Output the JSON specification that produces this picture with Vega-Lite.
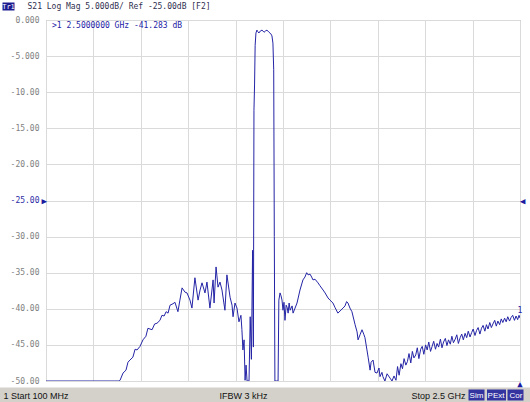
{
  "$schema": "https://vega.github.io/schema/vega-lite/v6.json",
  "width": 474,
  "height": 361,
  "autosize": {"type": "none"},
  "padding": {"left": 46, "top": 20, "right": 10, "bottom": 21},
  "background": "white",
  "config": {"view": {"stroke": "#a0a0a0", "strokeWidth": 1}, "font": "DejaVu Sans Mono"},
  "encoding": {
    "y": {
      "field": "db", "type": "quantitative",
      "scale": {"domain": [-50, 0], "nice": false, "zero": false},
      "axis": {
        "values": [0, -5, -10, -15, -20, -25, -30, -35, -40, -45, -50],
        "grid": true, "gridColor": "#dadada", "ticks": false, "tickSize": 0, "domain": false,
        "labelExpr": "datum.value == 0 ? '0.000' : replace(format(datum.value, '.4r'), '\u2212', '-')",
        "labelFont": "DejaVu Sans Mono", "labelFontSize": 8,
        "labelColor": {"condition": {"test": "datum.value == -25", "value": "#2b2ba6"}, "value": "#808080"},
        "labelPadding": 7, "labelFlush": false, "labelOverlap": false, "title": null
      }
    }
  },
  "layer": [
    {
      "data": {"values": [
        {"freq": 100, "db": -50}, {"freq": 470, "db": -50}, {"freq": 475, "db": -49.9}, {"freq": 490, "db": -48.9},
        {"freq": 505, "db": -48.5}, {"freq": 515, "db": -47.4}, {"freq": 525, "db": -47.1}, {"freq": 540, "db": -46.7}, {"freq": 551, "db": -45.6}, {"freq": 561, "db": -45.7},
        {"freq": 576, "db": -45.2}, {"freq": 591, "db": -44.3}, {"freq": 606, "db": -43.8}, {"freq": 616, "db": -42.7},
        {"freq": 637, "db": -42.9}, {"freq": 650, "db": -42.1}, {"freq": 662, "db": -42.0}, {"freq": 677, "db": -41.6}, {"freq": 687, "db": -40.9},
        {"freq": 698, "db": -41.0}, {"freq": 708, "db": -40.4}, {"freq": 718, "db": -40.6}, {"freq": 728, "db": -39.5}, {"freq": 743, "db": -39.3}, {"freq": 753, "db": -39.1},
        {"freq": 768, "db": -40.4}, {"freq": 778, "db": -38.8}, {"freq": 789, "db": -37.1}, {"freq": 804, "db": -37.7},
        {"freq": 814, "db": -37.8}, {"freq": 829, "db": -38.8}, {"freq": 839, "db": -39.9}, {"freq": 854, "db": -35.7},
        {"freq": 870, "db": -38.8}, {"freq": 880, "db": -37.4}, {"freq": 890, "db": -36.4}, {"freq": 905, "db": -37.8},
        {"freq": 915, "db": -36.3}, {"freq": 930, "db": -39.9}, {"freq": 946, "db": -36.0}, {"freq": 951, "db": -39.2},
        {"freq": 961, "db": -34.2}, {"freq": 971, "db": -37.0}, {"freq": 981, "db": -36.3}, {"freq": 991, "db": -37.4},
        {"freq": 1006, "db": -40.2}, {"freq": 1016, "db": -35.3}, {"freq": 1032, "db": -38.4}, {"freq": 1042, "db": -39.5},
        {"freq": 1047, "db": -41.1}, {"freq": 1057, "db": -39.2}, {"freq": 1067, "db": -39.9}, {"freq": 1077, "db": -41.8},
        {"freq": 1087, "db": -40.9}, {"freq": 1092, "db": -42.9}, {"freq": 1097, "db": -45.7}, {"freq": 1103, "db": -44.3},
        {"freq": 1108, "db": -49.9}, {"freq": 1113, "db": -47.8}, {"freq": 1118, "db": -50}, {"freq": 1128, "db": -50},
        {"freq": 1134, "db": -41.1}, {"freq": 1140, "db": -47.0}, {"freq": 1146, "db": -31.9}, {"freq": 1150, "db": -45.3},
        {"freq": 1153, "db": -12.5}, {"freq": 1156, "db": -9.0}, {"freq": 1159, "db": -3.5}, {"freq": 1163, "db": -1.8},
        {"freq": 1168, "db": -1.4}, {"freq": 1172, "db": -1.6}, {"freq": 1178, "db": -1.8}, {"freq": 1186, "db": -1.5},
        {"freq": 1194, "db": -1.4}, {"freq": 1204, "db": -1.7}, {"freq": 1212, "db": -1.5}, {"freq": 1219, "db": -1.4},
        {"freq": 1229, "db": -1.7}, {"freq": 1238, "db": -1.9}, {"freq": 1244, "db": -2.2}, {"freq": 1249, "db": -3.2},
        {"freq": 1253, "db": -6.9}, {"freq": 1256, "db": -30}, {"freq": 1259, "db": -50}, {"freq": 1275, "db": -50},
        {"freq": 1279, "db": -38.8}, {"freq": 1285, "db": -37.8}, {"freq": 1290, "db": -38.2}, {"freq": 1295, "db": -38.8},
        {"freq": 1300, "db": -40.2}, {"freq": 1305, "db": -39.1}, {"freq": 1310, "db": -41.6}, {"freq": 1316, "db": -39.5},
        {"freq": 1321, "db": -39.8}, {"freq": 1326, "db": -40.6}, {"freq": 1331, "db": -39.2}, {"freq": 1336, "db": -40.2},
        {"freq": 1346, "db": -39.6}, {"freq": 1351, "db": -40.6}, {"freq": 1361, "db": -39.9}, {"freq": 1371, "db": -39.2},
        {"freq": 1386, "db": -37.4}, {"freq": 1401, "db": -36.0}, {"freq": 1411, "db": -35.6}, {"freq": 1420, "db": -35.0},
        {"freq": 1427, "db": -35.3}, {"freq": 1437, "db": -35.2}, {"freq": 1445, "db": -35.6}, {"freq": 1452, "db": -36.0},
        {"freq": 1462, "db": -35.9}, {"freq": 1477, "db": -36.4}, {"freq": 1487, "db": -36.8}, {"freq": 1503, "db": -37.4},
        {"freq": 1513, "db": -37.8}, {"freq": 1528, "db": -38.5}, {"freq": 1538, "db": -38.8}, {"freq": 1553, "db": -39.2},
        {"freq": 1563, "db": -39.8}, {"freq": 1578, "db": -40.6}, {"freq": 1589, "db": -40.3}, {"freq": 1604, "db": -39.9},
        {"freq": 1614, "db": -39.6}, {"freq": 1622, "db": -39.0}, {"freq": 1629, "db": -39.2}, {"freq": 1639, "db": -39.9},
        {"freq": 1649, "db": -40.4}, {"freq": 1665, "db": -42.2}, {"freq": 1675, "db": -43.2}, {"freq": 1680, "db": -44.3},
        {"freq": 1690, "db": -43.6}, {"freq": 1700, "db": -42.9}, {"freq": 1710, "db": -43.6}, {"freq": 1715, "db": -44.0},
        {"freq": 1725, "db": -45.7}, {"freq": 1731, "db": -46.7}, {"freq": 1741, "db": -48.5}, {"freq": 1746, "db": -47.4},
        {"freq": 1756, "db": -47.1}, {"freq": 1766, "db": -48.8}, {"freq": 1776, "db": -48.9}, {"freq": 1786, "db": -48.2},
        {"freq": 1791, "db": -49.4}, {"freq": 1801, "db": -48.8}, {"freq": 1806, "db": -49.4}, {"freq": 1816, "db": -50},
        {"freq": 1827, "db": -49.0}, {"freq": 1842, "db": -49.6}, {"freq": 1852, "db": -50}, {"freq": 1862, "db": -49.3},
        {"freq": 1872, "db": -49.9},
        {"freq": 1880, "db": -48.0}, {"freq": 1888, "db": -49.2}, {"freq": 1897, "db": -47.6}, {"freq": 1905, "db": -48.3},
        {"freq": 1913, "db": -46.9}, {"freq": 1922, "db": -47.8}, {"freq": 1930, "db": -47.3}, {"freq": 1938, "db": -46.2},
        {"freq": 1947, "db": -47.5}, {"freq": 1955, "db": -45.9}, {"freq": 1963, "db": -46.8}, {"freq": 1972, "db": -46.4},
        {"freq": 1980, "db": -45.4}, {"freq": 1988, "db": -46.9}, {"freq": 1997, "db": -45.6}, {"freq": 2005, "db": -45.2},
        {"freq": 2013, "db": -46.3}, {"freq": 2022, "db": -45.0}, {"freq": 2030, "db": -45.7}, {"freq": 2038, "db": -44.6},
        {"freq": 2047, "db": -45.9}, {"freq": 2055, "db": -45.2}, {"freq": 2063, "db": -44.5}, {"freq": 2072, "db": -45.6},
        {"freq": 2080, "db": -44.8}, {"freq": 2088, "db": -45.3}, {"freq": 2097, "db": -44.2}, {"freq": 2105, "db": -45.4},
        {"freq": 2113, "db": -44.6}, {"freq": 2122, "db": -44.1}, {"freq": 2130, "db": -45.1}, {"freq": 2138, "db": -44.3},
        {"freq": 2147, "db": -44.9}, {"freq": 2155, "db": -43.8}, {"freq": 2163, "db": -44.7}, {"freq": 2172, "db": -44.2},
        {"freq": 2180, "db": -43.6}, {"freq": 2188, "db": -44.8}, {"freq": 2197, "db": -44.0}, {"freq": 2205, "db": -43.5},
        {"freq": 2213, "db": -44.3}, {"freq": 2222, "db": -43.4}, {"freq": 2230, "db": -44.0}, {"freq": 2238, "db": -43.1},
        {"freq": 2247, "db": -43.9}, {"freq": 2255, "db": -43.3}, {"freq": 2263, "db": -42.8}, {"freq": 2272, "db": -43.7},
        {"freq": 2280, "db": -43.0}, {"freq": 2288, "db": -42.6}, {"freq": 2297, "db": -43.5}, {"freq": 2305, "db": -42.7},
        {"freq": 2313, "db": -42.3}, {"freq": 2322, "db": -43.1}, {"freq": 2330, "db": -42.2}, {"freq": 2338, "db": -42.8},
        {"freq": 2347, "db": -41.9}, {"freq": 2355, "db": -42.6}, {"freq": 2363, "db": -42.1}, {"freq": 2372, "db": -41.6},
        {"freq": 2380, "db": -42.4}, {"freq": 2388, "db": -41.7}, {"freq": 2397, "db": -42.2}, {"freq": 2405, "db": -41.4},
        {"freq": 2413, "db": -41.9}, {"freq": 2422, "db": -41.3}, {"freq": 2430, "db": -41.8}, {"freq": 2438, "db": -41.1},
        {"freq": 2447, "db": -41.7}, {"freq": 2455, "db": -41.2}, {"freq": 2463, "db": -40.9}, {"freq": 2472, "db": -41.6},
        {"freq": 2480, "db": -41.0}, {"freq": 2488, "db": -41.5}, {"freq": 2495, "db": -40.9}, {"freq": 2500, "db": -41.283}
      ]},
      "mark": {"type": "line", "color": "#2424a6", "strokeWidth": 1, "clip": true},
      "encoding": {
        "x": {
          "field": "freq", "type": "quantitative",
          "scale": {"domain": [100, 2500], "nice": false, "zero": false},
          "axis": {"values": [100, 340, 580, 820, 1060, 1300, 1540, 1780, 2020, 2260, 2500], "orient": "bottom", "grid": true, "gridColor": "#dadada", "labels": false, "ticks": false, "domain": false, "title": null, "zindex": 0}
        }
      }
    },
    {
      "data": {"values": [{"freq": 100, "db": 0, "label": ">1  2.5000000 GHz -41.283 dB"}]},
      "mark": {"type": "text", "align": "left", "baseline": "middle", "dx": 6, "dy": 6, "font": "DejaVu Sans Mono", "fontSize": 8, "color": "#2424a6"},
      "encoding": {
        "x": {
          "field": "freq", "type": "quantitative",
          "scale": {"domain": [100, 2500], "nice": false, "zero": false},
          "axis": {"values": [1209], "orient": "bottom", "offset": 6, "ticks": true, "tickSize": 15, "tickWidth": 532, "tickColor": "#d4d1cb", "labels": false, "grid": false, "domain": false, "title": null, "zindex": 0}
        },
        "text": {"field": "label"}
      }
    },
    {
      "data": {"values": [{"freq": 2500, "db": -50, "sym": "\u25b2"}]},
      "mark": {"type": "text", "align": "center", "baseline": "top", "dy": -1, "fontSize": 9, "color": "#1c1ca0"},
      "encoding": {
        "x": {
          "field": "freq", "type": "quantitative",
          "scale": {"domain": [100, 2500], "nice": false, "zero": false},
          "axis": {
            "values": [100, 2500], "orient": "bottom", "ticks": false, "tickSize": 0, "grid": false, "domain": false,
            "labelExpr": "datum.value == 100 ? '1  Start 100 MHz' : 'Stop 2.5 GHz'",
            "labelAlign": {"condition": {"test": "datum.value == 100", "value": "left"}, "value": "right"},
            "labelOffset": {"condition": {"test": "datum.value == 100", "value": -43}, "value": -55},
            "labelPadding": 14, "labelBaseline": "middle", "labelFont": "Liberation Sans", "labelFontSize": 9,
            "labelColor": "#111111", "labelFlush": false, "labelOverlap": false,
            "title": "IFBW 3 kHz", "titleX": 197, "titleY": 14, "titleAlign": "center", "titleBaseline": "middle",
            "titleFont": "Liberation Sans", "titleFontSize": 9, "titleFontWeight": "normal", "titleColor": "#111111",
            "zindex": 1
          }
        },
        "text": {"field": "sym"}
      }
    },
    {
      "data": {"values": [{"freq": 2500, "db": -41.283, "label": "1"}]},
      "mark": {"type": "text", "align": "center", "baseline": "bottom", "dy": -3, "font": "DejaVu Sans Mono", "fontSize": 8, "color": "#2424a6"},
      "encoding": {
        "x": {
          "field": "freq", "type": "quantitative",
          "scale": {"domain": [100, 2500], "nice": false, "zero": false},
          "axis": {
            "values": [2277, 2376, 2477], "orient": "bottom", "offset": 8, "ticks": true, "tickSize": 11,
            "tickWidth": {"condition": {"test": "datum.value > 2300 && datum.value < 2400", "value": 19}, "value": 16},
            "tickColor": "#3434a0",
            "labelExpr": "datum.value < 2300 ? 'Sim' : datum.value < 2400 ? 'PExt' : 'Cor'",
            "labelPadding": -5, "labelColor": "white", "labelFont": "Liberation Sans", "labelFontSize": 8,
            "labelAlign": "center", "labelBaseline": "middle", "labelOverlap": false, "labelFlush": false,
            "grid": false, "domain": false, "title": null, "zindex": 1
          }
        },
        "text": {"field": "label"}
      }
    },
    {
      "data": {"values": [{"freq": 100, "db": -25, "sym": "\u25b6"}]},
      "mark": {"type": "text", "align": "right", "baseline": "middle", "dx": 1, "fontSize": 9, "color": "#1c1ca0"},
      "encoding": {
        "x": {
          "field": "freq", "type": "quantitative",
          "scale": {"domain": [100, 2500], "nice": false, "zero": false},
          "axis": {
            "values": [100], "orient": "top", "offset": 10, "ticks": true, "tickSize": 8, "tickWidth": 12,
            "tickOffset": -38,
            "tickColor": "#1c1c90", "labelExpr": "'Tr1'", "labelPadding": -4, "labelColor": "white",
            "labelFont": "DejaVu Sans Mono", "labelFontSize": 7, "labelAlign": "center", "labelBaseline": "middle",
            "labelOverlap": false, "labelFlush": false, "grid": false, "domain": false,
            "title": "S21 Log Mag 5.000dB/ Ref -25.00dB [F2]", "titleX": -19, "titleY": -4,
            "titleAlign": "left", "titleAnchor": null, "titleBaseline": "middle", "titleAngle": 0,
            "titleFont": "DejaVu Sans Mono", "titleFontSize": 8, "titleFontWeight": "normal", "titleColor": "#303050",
            "zindex": 1
          }
        },
        "text": {"field": "sym"}
      }
    },
    {
      "data": {"values": [{"freq": 2500, "db": -25, "sym": "\u25c0"}]},
      "mark": {"type": "text", "align": "left", "baseline": "middle", "dx": 0, "fontSize": 9, "color": "#1c1ca0"},
      "encoding": {
        "x": {
          "field": "freq", "type": "quantitative",
          "scale": {"domain": [100, 2500], "nice": false, "zero": false},
          "axis": null
        },
        "text": {"field": "sym"}
      }
    }
  ],
  "resolve": {"axis": {"x": "independent"}}
}
